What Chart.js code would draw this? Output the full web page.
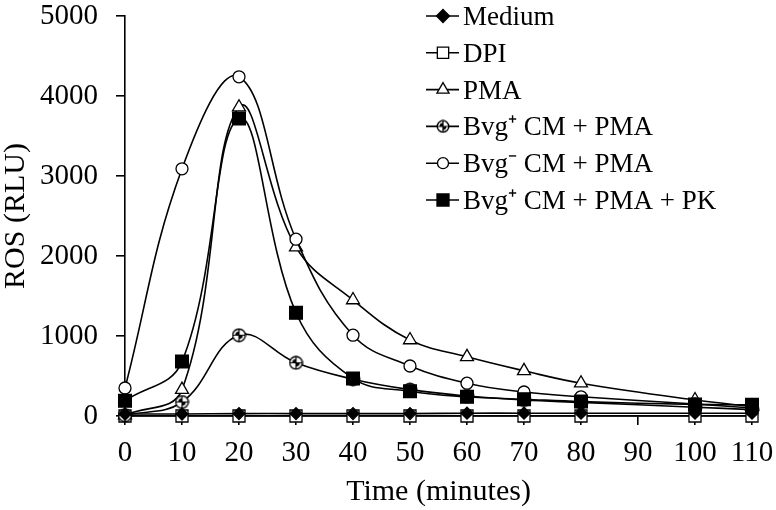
<!DOCTYPE html>
<html>
<head>
<meta charset="utf-8">
<script src="https://cdn.jsdelivr.net/npm/chart.js@4"></script>
<style>
  html, body { margin: 0; padding: 0; background: #fff; }
  #wrap { width: 776px; height: 510px; }
</style>
</head>
<body>
<div id="wrap"><canvas id="chart" width="776" height="510"></canvas></div>
<script>
// time points (minutes)
const times = [0, 10, 20, 30, 40, 50, 60, 70, 80, 100, 110];

// ROS (RLU) per condition
const medium     = [25, 25, 30, 30, 30, 30, 35, 35, 35, 35, 35];
const dpi        = [0, 0, 0, 0, 0, 0, 0, 0, 0, 0, 0];
const pma        = [10, 330, 3860, 2110, 1450, 950, 740, 565, 410, 200, 120];
const bvgPlus    = [10, 175, 1010, 665, 460, 330, 250, 200, 170, 110, 80];
const bvgMinus   = [350, 3090, 4240, 2210, 1010, 625, 410, 300, 240, 150, 100];
const bvgPlusPK  = [190, 680, 3720, 1290, 470, 310, 240, 210, 180, 145, 140];

const seriesLabels = ["Medium", "DPI", "PMA", "Bvg\u207A CM + PMA", "Bvg\u207B CM + PMA", "Bvg\u207A CM + PMA + PK"];

const yTicks = [0, 1000, 2000, 3000, 4000, 5000];
const xTicks = [0, 10, 20, 30, 40, 50, 60, 70, 80, 90, 100, 110];

const FONT = "'Liberation Serif', 'Times New Roman', serif";

// circle with a cross inside, for the Bvg+ CM + PMA marker
function crossedCircle(size) {
    const c = document.createElement("canvas");
    c.width = size; c.height = size;
    const g = c.getContext("2d");
    const m = size / 2, r = size / 2 - 1.2;
    g.fillStyle = "#fff";
    g.strokeStyle = "#000";
    g.lineWidth = 1.4;
    g.beginPath(); g.arc(m, m, r, 0, Math.PI * 2); g.fill(); g.stroke();
    g.fillStyle = "#000";
    g.beginPath(); g.moveTo(m, m); g.arc(m, m, r * 0.6, Math.PI, Math.PI * 1.5); g.fill();
    g.beginPath(); g.moveTo(m, m); g.arc(m, m, r * 0.6, 0, Math.PI * 0.5); g.fill();
    g.lineWidth = 1.2;
    g.strokeStyle = "#000";
    g.beginPath(); g.moveTo(m, m - r); g.lineTo(m, m + r); g.moveTo(m - r, m); g.lineTo(m + r, m); g.stroke();
    return c;
}

function toPoints(values) {
    return values.map((v, i) => ({ x: times[i], y: v }));
}

const markerDefs = [
    { style: "rectRot", radius: 6, fill: "#000", legendStyle: "rectRot", legendRadius: 6.5 },
    { style: "rect", radius: 8.5, fill: "#fff", legendStyle: "rect", legendRadius: 8 },
    { style: "triangle", radius: 7.5, fill: "#fff", legendStyle: "triangle", legendRadius: 7 },
    { style: crossedCircle(15), radius: 7, fill: "#fff", legendStyle: crossedCircle(14), legendRadius: 7 },
    { style: "circle", radius: 6, fill: "#fff", legendStyle: "circle", legendRadius: 5.5 },
    { style: "rect", radius: 9, fill: "#000", legendStyle: "rect", legendRadius: 8.5 }
];
const seriesValues = [medium, dpi, pma, bvgPlus, bvgMinus, bvgPlusPK];
// lower order is drawn on top; Medium's diamonds sit over the DPI squares
const drawOrder = [0, 6, 5, 4, 3, 2];

const datasets = seriesValues.map((vals, i) => ({
    label: seriesLabels[i],
    data: toPoints(vals),
    borderColor: "#000",
    borderWidth: 1.6,
    backgroundColor: markerDefs[i].fill,
    pointStyle: markerDefs[i].style,
    pointRadius: markerDefs[i].radius,
    pointBorderColor: "#000",
    pointBorderWidth: 1.3,
    tension: 0.4,
    fill: false,
    clip: false,
    order: drawOrder[i]
}));

// vertical legend drawn inside the plot, upper right
const legendPlugin = {
    id: "innerLegend",
    afterDraw(chart) {
        const ctx = chart.ctx;
        const area = chart.chartArea;
        const x0 = area.left + 301;
        const y0 = area.top;
        const rowH = 36.8;
        ctx.save();
        ctx.font = "27px " + FONT;
        ctx.textBaseline = "middle";
        chart.data.datasets.forEach((ds, i) => {
            const y = y0 + i * rowH;
            ctx.strokeStyle = "#000";
            ctx.lineWidth = 1.6;
            ctx.beginPath();
            ctx.moveTo(x0, y);
            ctx.lineTo(x0 + 33, y);
            ctx.stroke();
            ctx.fillStyle = ds.backgroundColor;
            ctx.lineWidth = 1.3;
            Chart.helpers.drawPoint(ctx, {
                pointStyle: markerDefs[i].legendStyle,
                radius: markerDefs[i].legendRadius,
                rotation: 0,
                borderWidth: 1.3
            }, x0 + 17, y);
            ctx.fillStyle = "#000";
            ctx.fillText(ds.label, x0 + 37, y + 2);
        });
        ctx.restore();
    }
};

new Chart(document.getElementById("chart").getContext("2d"), {
    type: "line",
    data: { datasets: datasets },
    plugins: [legendPlugin],
    options: {
        responsive: false,
        animation: false,
        maintainAspectRatio: false,
        layout: { padding: { top: 16, right: 24, left: 0, bottom: 0 } },
        plugins: { legend: { display: false }, tooltip: { enabled: false } },
        scales: {
            x: {
                type: "linear",
                min: 0,
                max: 110,
                afterBuildTicks: axis => { axis.ticks = xTicks.map(v => ({ value: v })); },
                afterFit: axis => {
                    axis.height = 94;
                    axis.paddingLeft = 0;
                    axis.paddingRight = 0;
                },
                border: { color: "#000", width: 1.6 },
                grid: { drawOnChartArea: false, color: "#000", lineWidth: 1.6, tickLength: 9 },
                ticks: { color: "#000", font: { family: FONT, size: 29 }, padding: 11, maxRotation: 0, callback: v => String(v) },
                title: { display: true, text: "Time (minutes)", color: "#000", font: { family: FONT, size: 30, lineHeight: 1.2 }, padding: { top: 0, bottom: 0 } }
            },
            y: {
                min: 0,
                max: 5000,
                afterBuildTicks: axis => { axis.ticks = yTicks.map(v => ({ value: v })); },
                afterFit: axis => {
                    axis.width = 125;
                    axis.paddingTop = 0;
                    axis.paddingBottom = 0;
                },
                border: { color: "#000", width: 1.6 },
                grid: { drawOnChartArea: false, color: "#000", lineWidth: 1.6, tickLength: 9 },
                ticks: { color: "#000", font: { family: FONT, size: 29 }, padding: 18, callback: v => String(v) },
                title: { display: true, text: "ROS (RLU)", color: "#000", font: { family: FONT, size: 30, lineHeight: 1.0 }, padding: { top: 1, bottom: 1 } }
            }
        }
    }
});
</script>
</body>
</html>
